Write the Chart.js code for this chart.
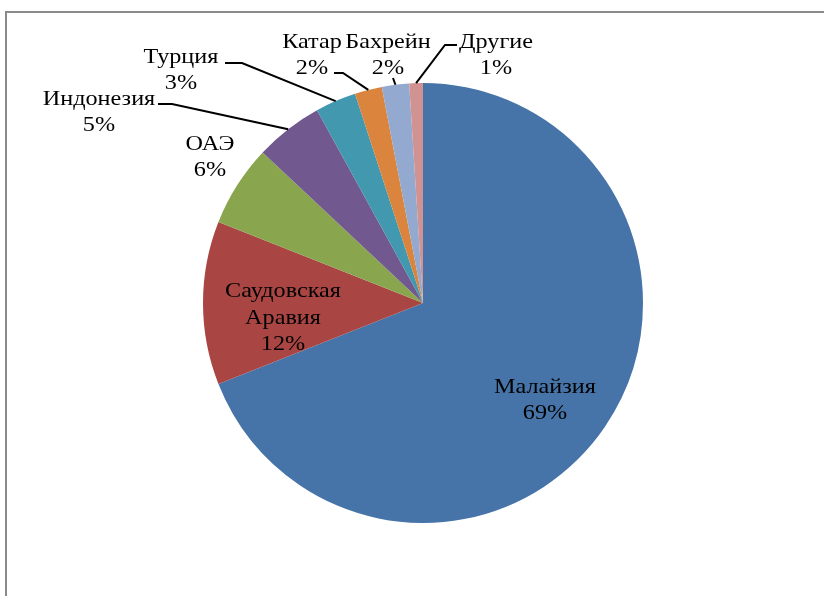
<!DOCTYPE html>
<html>
<head>
<meta charset="utf-8">
<script src="https://cdn.jsdelivr.net/npm/chart.js@4/dist/chart.umd.min.js"></script>
<style>
  html, body { margin: 0; padding: 0; background: #fff; }
  #wrap { position: relative; width: 824px; height: 596px; }
</style>
</head>
<body>
<div id="wrap"><canvas id="chart" width="824" height="596"></canvas></div>
<script>
// data
const countries = ['Малайзия', 'Саудовская Аравия', 'ОАЭ', 'Индонезия', 'Турция', 'Катар', 'Бахрейн', 'Другие'];
const shares = [69, 12, 6, 5, 3, 2, 2, 1];
const sliceColors = ['#4674A8', '#A94643', '#89A54E', '#71598F', '#4198AF', '#DB843D', '#93A9CF', '#D19392'];

// label layout, offsets from pie centre in px
const labelPos = [[122, 97], [-140, 15], [-213, -146], [-324, -191], [-242, -233], [-111, -248], [-35, -248], [73, -248]];
// leader lines: [start, elbow] offsets from pie centre, null = no line
const leaders = [null, null, null, [[-265, -199], [-251, -199]], [[-198, -240], [-181, -240]],
                 [[-89, -230], [-80, -230]], [[-30, -225], [-30, -225]], [[34, -258], [22, -258]]];

const labelFont = '22px "Liberation Serif", "Times New Roman", serif';
const textStretch = 1.1; // reference glyphs are a bit wider than Liberation Serif

const pieLabels = {
  id: 'pieLabels',
  afterDatasetsDraw(chart) {
    const ctx = chart.ctx;
    const meta = chart.getDatasetMeta(0);
    const total = shares.reduce((a, b) => a + b, 0);
    ctx.save();
    meta.data.forEach((arc, i) => {
      const cx = arc.x, cy = arc.y;
      // leader line
      if (leaders[i]) {
        const mid = (arc.startAngle + arc.endAngle) / 2;
        const ex = cx + Math.cos(mid) * arc.outerRadius;
        const ey = cy + Math.sin(mid) * arc.outerRadius;
        ctx.strokeStyle = '#000';
        ctx.lineWidth = 2;
        ctx.beginPath();
        ctx.moveTo(cx + leaders[i][0][0], cy + leaders[i][0][1]);
        ctx.lineTo(cx + leaders[i][1][0], cy + leaders[i][1][1]);
        ctx.lineTo(ex, ey);
        ctx.stroke();
      }
      // text
      const name = countries[i];
      const lines = name.includes(' ') ? name.split(' ') : [name];
      lines.push(Math.round(shares[i] / total * 100) + '%');
      const lh = 26.5;
      const x = cx + labelPos[i][0];
      const y0 = cy + labelPos[i][1] - (lines.length - 1) * lh / 2;
      ctx.font = labelFont;
      ctx.fillStyle = '#000';
      ctx.textAlign = 'center';
      ctx.textBaseline = 'middle';
      lines.forEach((t, k) => {
        ctx.save();
        ctx.translate(x, y0 + k * lh);
        ctx.scale(textStretch, 1);
        ctx.fillText(t, 0, 0);
        ctx.restore();
      });
    });
    ctx.restore();
  }
};

const frame = {
  id: 'frame',
  beforeDraw(chart) {
    const ctx = chart.ctx;
    ctx.save();
    ctx.strokeStyle = '#8a8a8a';
    ctx.lineWidth = 2;
    ctx.beginPath();
    ctx.moveTo(6, 596);
    ctx.lineTo(6, 12);
    ctx.lineTo(824, 12);
    ctx.stroke();
    ctx.restore();
  }
};

new Chart(document.getElementById('chart'), {
  type: 'pie',
  data: {
    labels: countries,
    datasets: [{
      data: shares,
      backgroundColor: sliceColors,
      borderWidth: 0
    }]
  },
  options: {
    responsive: false,
    animation: false,
    layout: { padding: { left: 203, right: 181, top: 83, bottom: 73 } },
    plugins: {
      legend: { display: false },
      tooltip: { enabled: false }
    }
  },
  plugins: [frame, pieLabels]
});
</script>
</body>
</html>
